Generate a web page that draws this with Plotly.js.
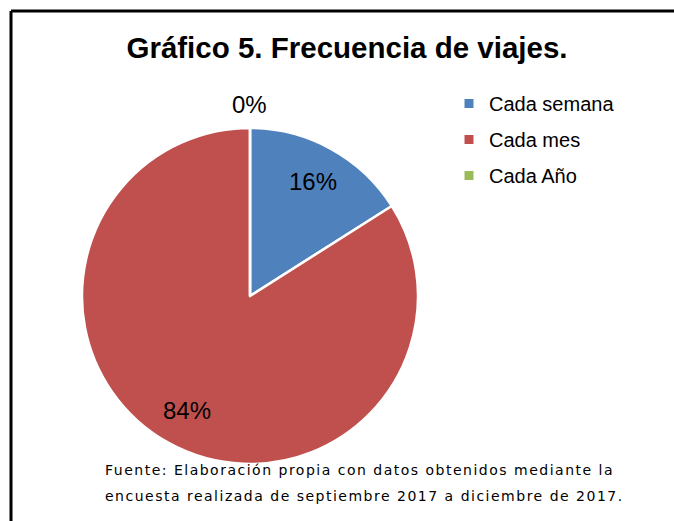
<!DOCTYPE html>
<html>
<head>
<meta charset="utf-8">
<script src="https://cdn.plot.ly/plotly-3.0.1.min.js"></script>
<style>
html,body{margin:0;padding:0;background:#fff;}
#chart{width:674px;height:521px;}
.annotation.src text{letter-spacing:1.5px;}
</style>
</head>
<body>
<div id="chart"></div>
<script>
const categories = ["Cada semana", "Cada mes", "Cada Año"];
const values = [16, 84, 0];
const colors = ["#4F81BD", "#C0504D", "#9BBB59"];
const titleText = "Gráfico 5. Frecuencia de viajes.";
const sourceLines = ["Fuente: Elaboración propia con datos obtenidos mediante la",
                     "encuesta realizada de septiembre 2017 a diciembre de 2017."];

const W = 674, H = 521;
const px = v => v / W;
const py = v => 1 - v / H;

// pie geometry (layout, pixels)
const CX = 250, CY = 296, R = 168, LABEL_R = 0.78 * R;

const pie = {
  type: "pie",
  labels: categories,
  values: values,
  sort: false,
  direction: "clockwise",
  rotation: 0,
  marker: {colors: colors, line: {color: "#ffffff", width: 2.5}},
  textinfo: "none",
  showlegend: false,
  hoverinfo: "label+percent",
  domain: {x: [px(CX - R), px(CX + R)], y: [py(CY + R), py(CY - R)]}
};

const legendTraces = categories.map((c, i) => ({
  type: "scatter",
  mode: "markers",
  x: [null], y: [null],
  name: c,
  legendgroup: "g" + i,
  marker: {symbol: "square", size: 9, color: colors[i]},
  showlegend: true,
  hoverinfo: "skip"
}));

// percentage labels placed from the data (cumulative angle)
const total = values.reduce((a, b) => a + b, 0);
let cum = 0;
const pctAnnotations = values.map((v, i) => {
  const mid = (cum + v / 2) / total * 2 * Math.PI;
  cum += v;
  const pct = Math.round(v / total * 100) + "%";
  if (v === 0) {
    return {text: pct, xref: "paper", yref: "paper",
      x: px(CX + (R + 8) * Math.sin(mid)), y: py(CY - (R + 8) * Math.cos(mid)),
      xanchor: "center", yanchor: "bottom", showarrow: false,
      font: {family: "Liberation Sans, Arial, sans-serif", size: 24, color: "#000"}};
  }
  return {text: pct, xref: "paper", yref: "paper",
    x: px(CX + LABEL_R * Math.sin(mid)), y: py(CY - LABEL_R * Math.cos(mid)),
    xanchor: "center", yanchor: "middle", showarrow: false,
    font: {family: "Liberation Sans, Arial, sans-serif", size: 24, color: "#000"}};
});

const srcAnnotations = sourceLines.map((t, i) => ({
  text: t, xref: "paper", yref: "paper", align: "left",
  x: px(103), y: py(470 + i * 26), xanchor: "left", yanchor: "middle",
  showarrow: false,
  font: {family: "DejaVu Sans, sans-serif", size: 14, color: "#000"}
}));

const layout = {
  width: W, height: H,
  margin: {l: 0, r: 0, t: 0, b: 0},
  paper_bgcolor: "#fff",
  plot_bgcolor: "rgba(0,0,0,0)",
  xaxis: {visible: false, domain: [0.99, 1]},
  yaxis: {visible: false, domain: [0.99, 1]},
  title: {
    text: "<b>" + titleText + "</b>",
    font: {family: "Liberation Sans, Arial, sans-serif", size: 29.5, color: "#000"},
    x: px(347), xanchor: "center", xref: "paper",
    y: py(48), yanchor: "middle", yref: "paper"
  },
  showlegend: true,
  legend: {
    x: px(449), y: py(84), xanchor: "left", yanchor: "top",
    traceorder: "grouped", tracegroupgap: 7,
    font: {family: "Liberation Sans, Arial, sans-serif", size: 20, color: "#000"},
    bgcolor: "rgba(0,0,0,0)"
  },
  shapes: [
    {type: "line", xref: "paper", yref: "paper", x0: px(11), x1: 1.02, y0: py(11), y1: py(11), line: {color: "#000", width: 3}},
    {type: "line", xref: "paper", yref: "paper", x0: px(11), x1: px(11), y0: py(11), y1: -0.02, line: {color: "#000", width: 3}}
  ],
  annotations: srcAnnotations.concat(pctAnnotations)
};

Plotly.newPlot("chart", [pie].concat(legendTraces), layout, {displayModeBar: false, staticPlot: true}).then(gd => {
  gd.querySelectorAll("g.annotation").forEach(g => {
    const idx = +g.getAttribute("data-index");
    if (idx < sourceLines.length) g.classList.add("src");
  });
});
</script>
</body>
</html>
